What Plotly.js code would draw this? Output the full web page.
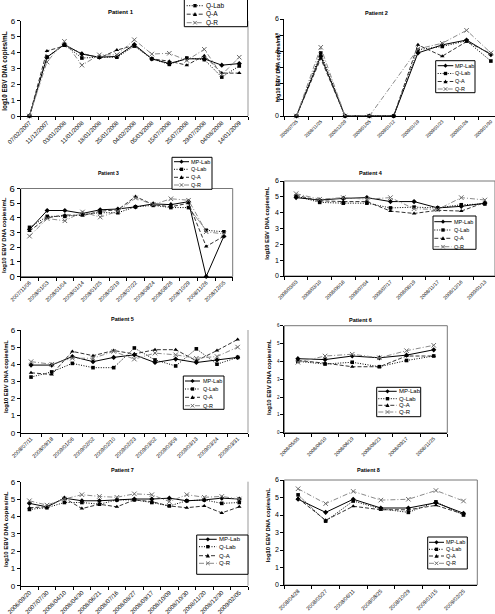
<!DOCTYPE html>
<html>
<head>
<meta charset="utf-8">
<script src="https://cdn.plot.ly/plotly-3.0.1.min.js"></script>
<style>
  html, body { margin: 0; padding: 0; background: #fff; }
  #chart { width: 495px; height: 614px; }
</style>
</head>
<body>
<div id="chart"></div>
<script>
// ---- EBV load per patient: log10 EBV DNA copies/mL by sampling date ----
const seriesNames = ['MP-Lab', 'Q-Lab', 'Q-A', 'Q-R'];

const p1Dates = ['07/02/2007','11/12/2007','03/01/2008','11/01/2008','18/01/2008','25/01/2008','04/02/2008','05/03/2008','15/07/2008','25/07/2008','29/07/2008','04/08/2008','14/01/2009'];
const p1MP   = [0, 3.7, 4.5, 3.9, 3.7, 3.75, 4.5, 3.6, 3.3, 3.6, 3.6, 3.2, 3.3];
const p1QLab = [0, 3.7, 4.5, 3.65, 3.7, 3.7, 4.4, 3.6, 3.25, 3.65, 3.55, 2.45, 3.15];
const p1QA   = [0, 4.1, 4.4, 3.95, 3.65, 4.15, 4.45, 3.6, 3.45, 3.2, 3.8, 2.7, 2.7];
const p1QR   = [0, 3.4, 4.7, 3.2, 3.85, 3.85, 4.8, 3.9, 3.95, 3.5, 4.2, 2.6, 3.7];

const p2Dates = ['2008/07/25','2008/11/25','2008/12/29','2009/01/05','2009/01/12','2009/01/19','2009/01/23','2009/01/26','2009/01/30'];
const p2MP   = [0, 3.7, 0, 0, 0, 3.9, 4.4, 4.7, 3.8];
const p2QLab = [0, 3.9, 0, 0, 0, 4.1, 4.3, 4.65, 3.4];
const p2QA   = [0, 3.55, 0, 0, 0, 4.4, 3.7, 4.6, 3.85];
const p2QR   = [0, 4.25, 0, 0, null, 4.15, 4.5, 5.3, 3.9];

const p3Dates = ['2007/11/06','2008/01/03','2008/01/04','2008/01/14','2008/01/25','2008/02/19','2008/07/22','2008/08/24','2008/08/26','2008/10/29','2008/11/26','2008/12/05'];
const p3MP   = [3.2, 4.5, 4.5, 4.3, 4.55, 4.6, 4.75, 4.95, 4.9, 5.1, 0, 2.75];
const p3QLab = [3.35, 4.1, 4.1, 4.25, 4.35, 4.35, 4.75, 4.85, 4.7, 4.7, 3.15, 3.05];
const p3QA   = [3.1, 4.0, 4.2, 4.15, 4.45, 4.55, 5.45, 4.9, 4.75, 5.0, 2.05, 2.75];
const p3QR   = [2.75, 3.95, 3.8, 4.4, 4.05, 4.45, 5.35, 4.9, 5.3, 5.2, 3.05, 2.9];

const p4Dates = ['2008/03/03','2008/03/10','2008/06/18','2008/07/04','2008/07/17','2008/08/19','2008/11/17','2008/12/16','2009/01/13'];
const p4MP   = [4.95, 4.8, 4.9, 4.95, 4.7, 4.7, 4.3, 4.4, 4.6];
const p4QLab = [5.05, 4.65, 4.6, 4.6, 4.3, 4.35, 4.3, 4.5, 4.55];
const p4QA   = [5.1, 4.75, 4.7, 4.7, 4.1, 3.95, 4.15, 4.1, 4.65];
const p4QR   = [5.2, 4.85, 4.95, 4.85, 4.95, 4.25, 4.2, 4.95, 4.8];

const p5Dates = ['2008/07/11','2008/09/18','2009/01/06','2009/02/02','2009/02/10','2009/02/23','2009/03/02','2009/03/09','2009/03/13','2009/03/24','2009/03/31'];
const p5MP   = [3.95, 3.95, 4.45, 4.15, 4.4, 4.55, 4.1, 4.3, 4.1, 4.25, 4.4];
const p5QLab = [3.25, 3.55, 4.05, 3.8, 3.8, 4.95, 4.25, 3.9, 4.9, 4.0, 4.4];
const p5QA   = [3.5, 3.4, 4.75, 4.5, 4.8, 4.6, 4.85, 4.85, 4.2, 4.8, 5.45];
const p5QR   = [4.15, 4.0, 4.35, 4.35, 4.75, 4.3, 4.65, 4.55, 4.35, 4.45, 5.0];

const p6Dates = ['2008/05/05','2008/06/10','2008/06/19','2008/08/23','2008/09/17','2008/11/25'];
const p6MP   = [4.15, 4.1, 4.3, 4.2, 4.35, 4.65];
const p6QLab = [4.0, 3.85, 3.95, 3.7, 4.05, 4.3];
const p6QA   = [4.05, 3.9, 3.7, 3.7, 4.3, 4.3];
const p6QR   = [3.95, 4.3, 4.4, 4.2, 4.6, 4.9];

const p7Dates = ['2006/09/20','2007/07/30','2008/04/10','2008/04/30','2008/06/21','2008/07/16','2008/08/27','2008/09/17','2008/10/09','2008/10/30','2008/11/20','2008/12/30','2009/02/05'];
const p7MP   = [4.75, 4.55, 5.05, 4.9, 4.9, 4.95, 5.0, 5.0, 5.05, 4.9, 4.95, 5.05, 5.0];
const p7QLab = [4.4, 4.5, 4.8, 4.8, 4.7, 4.95, 4.95, 4.8, 4.6, 4.9, 4.95, 4.75, 4.8];
const p7QA   = [4.5, 4.55, 5.05, 4.45, 4.7, 4.55, 4.95, 4.85, 4.6, 4.5, 4.6, 4.2, 4.55];
const p7QR   = [4.9, 4.65, 5.0, 5.25, 5.15, 5.1, 5.3, 5.25, 4.85, 5.25, 5.1, 5.15, 5.0];

const p8Dates = ['2008/04/28','2008/05/27','2008/06/11','2008/08/25','2008/10/29','2009/01/15','2009/02/25'];
const p8MP   = [4.9, 4.15, 4.9, 4.4, 4.4, 4.7, 4.1];
const p8QLab = [5.15, 3.65, 4.8, 4.35, 4.15, 4.75, 4.0];
const p8QA   = [4.95, 3.7, 4.5, 4.3, 4.3, 4.55, 4.05];
const p8QR   = [5.5, 4.65, 5.35, 4.85, 4.9, 5.4, 4.8];

// ---- page geometry (pixels) ----
const W = 495, H = 614;
const PX = x => x / W;
const PY = y => 1 - y / H;
const FONT = 'Liberation Sans, Arial, sans-serif';

// one entry per panel: plot box, x range, font sizes, title/legend placement
const panels = [
  { dates: p1Dates, vals: [p1MP, p1QLab, p1QA, p1QR], l: 20.7, r: 248, t: 20.7, b: 116, xEnd: null,
    yfs: 8, xfs: 6, frame: 'right', title: [121, 12.3, 6], ytitle: [5, 71.7, 6.3],
    leg: { x0: 184.3, x1: 247.5, y0: -8, y1: 26.7, rows: [-2.8, 5.7, 14.2, 22.7], sx0: 186.7, sx1: 203.3, tx: 204.5, fs: 6.5 } },
  { dates: p2Dates, vals: [p2MP, p2QLab, p2QA, p2QR], l: 284.3, r: 495, t: 19, b: 116, xEnd: 8.17,
    yfs: 7, xfs: 4.6, frame: null, title: [376.7, 13.3, 5.5], ytitle: [277.7, 67, 5.4],
    leg: { x0: 435.7, x1: 475, y0: 60.7, y1: 92.7, rows: [65.7, 73.5, 81.5, 89], sx0: 437.7, sx1: 453.3, tx: 454.3, fs: 5.5 } },
  { dates: p3Dates, vals: [p3MP, p3QLab, p3QA, p3QR], l: 20.7, r: 232.7, t: 188.5, b: 276.5, xEnd: null,
    yfs: 9.5, xfs: 5.4, frame: 'box', title: [108.7, 173.3, 5], ytitle: [4, 235, 6],
    leg: { x0: 172, x1: 212, y0: 157.3, y1: 189.3, rows: [161.7, 169.3, 177.3, 185], sx0: 174, sx1: 189, tx: 190, fs: 5.5 } },
  { dates: p4Dates, vals: [p4MP, p4QLab, p4QA, p4QR], l: 284.3, r: 495, t: 181, b: 276, xEnd: 8.43,
    yfs: 7, xfs: 5, frame: 'box', title: [371, 173.3, 5.5], ytitle: [266.7, 223, 5.8],
    leg: { x0: 433, x1: 476, y0: 216, y1: 249.3, rows: [221.7, 230, 238.3, 246.7], sx0: 434.3, sx1: 451.7, tx: 453.3, fs: 5.5 } },
  { dates: p5Dates, vals: [p5MP, p5QLab, p5QA, p5QR], l: 20.7, r: 248, t: 330, b: 432.7, xEnd: null,
    yfs: 8, xfs: 5.4, frame: 'right', title: [122.7, 319.3, 5.5], ytitle: [6, 377, 5.8],
    leg: { x0: 183.3, x1: 224, y0: 376, y1: 409.3, rows: [381, 389, 397.3, 405.7], sx0: 185, sx1: 200, tx: 201.7, fs: 5.5 } },
  { dates: p6Dates, vals: [p6MP, p6QLab, p6QA, p6QR], l: 284.3, r: 447.3, t: 325.7, b: 432.7, xEnd: null,
    yfs: 4.5, xfs: 5, frame: 'box', title: [360, 320, 5.5], ytitle: [269, 377, 6],
    leg: { x0: 376.7, x1: 420.7, y0: 387.3, y1: 416.7, rows: [391.3, 398.7, 405.3, 412], sx0: 378.3, sx1: 396.7, tx: 398.3, fs: 6 } },
  { dates: p7Dates, vals: [p7MP, p7QLab, p7QA, p7QR], l: 20.7, r: 248, t: 481.7, b: 585.7, xEnd: null,
    yfs: 8, xfs: 6, frame: 'right', title: [122.7, 470, 5.5], ytitle: [6, 529, 6],
    leg: { x0: 196.7, x1: 248, y0: 535, y1: 574.3, rows: [539.3, 546.7, 555.7, 563.3], sx0: 199, sx1: 216.7, tx: 218.3, fs: 6 } },
  { dates: p8Dates, vals: [p8MP, p8QLab, p8QA, p8QR], l: 284.3, r: 477.3, t: 480, b: 585, xEnd: null,
    yfs: 7, xfs: 5.4, frame: 'box', title: [368.3, 470, 5.5], ytitle: [268.3, 525, 5.9],
    leg: { x0: 427.7, x1: 467.3, y0: 537, y1: 569, rows: [542.3, 549.3, 556, 563.3], sx0: 429, sx1: 444, tx: 445, fs: 5.5 } }
];

// line / marker styles shared by all panels
const styles = [
  { line: { color: '#000', width: 1 }, marker: { symbol: 'diamond', size: 4, color: '#000' }, glyph: 'diamond' },
  { line: { color: '#000', width: 1, dash: '1px,1.5px' }, marker: { symbol: 'square', size: 3.6, color: '#000' }, glyph: 'square' },
  { line: { color: '#333', width: 1, dash: '4px,2px' }, marker: { symbol: 'triangle-up', size: 4, color: '#000' }, glyph: 'triangle' },
  { line: { color: '#8a8a8a', width: 1, dash: '5px,2px,1px,2px' }, marker: { symbol: 'x-thin-open', size: 4.5, color: '#6a6a6a', line: { color: '#6a6a6a', width: 1 } }, glyph: 'x' }
];

const traces = [];
const shapes = [];
const annotations = [];
const layout = {
  width: W, height: H,
  margin: { l: 0, r: 0, t: 0, b: 0, pad: 0, autoexpand: false },
  paper_bgcolor: '#fff', plot_bgcolor: 'rgba(0,0,0,0)',
  showlegend: false,
  font: { family: FONT, color: '#000' }
};

function markerPath(kind, cx, cy, s) {
  const p = (x, y) => PX(x) + ',' + PY(y);
  if (kind === 'diamond') return 'M' + p(cx, cy - s) + 'L' + p(cx + s, cy) + 'L' + p(cx, cy + s) + 'L' + p(cx - s, cy) + 'Z';
  if (kind === 'square') return 'M' + p(cx - s * 0.8, cy - s * 0.8) + 'L' + p(cx + s * 0.8, cy - s * 0.8) + 'L' + p(cx + s * 0.8, cy + s * 0.8) + 'L' + p(cx - s * 0.8, cy + s * 0.8) + 'Z';
  if (kind === 'triangle') return 'M' + p(cx, cy - s) + 'L' + p(cx + s, cy + s * 0.8) + 'L' + p(cx - s, cy + s * 0.8) + 'Z';
  return 'M' + p(cx - s * 0.8, cy - s * 0.8) + 'L' + p(cx + s * 0.8, cy + s * 0.8) + 'M' + p(cx - s * 0.8, cy + s * 0.8) + 'L' + p(cx + s * 0.8, cy - s * 0.8);
}

panels.forEach((pn, i) => {
  const k = i + 1;
  const xa = 'xaxis' + (k === 1 ? '' : k), ya = 'yaxis' + (k === 1 ? '' : k);
  const xr = 'x' + (k === 1 ? '' : k), yr = 'y' + (k === 1 ? '' : k);
  const n = pn.dates.length;

  layout[xa] = {
    domain: [PX(pn.l), PX(pn.r)], anchor: yr, type: 'category',
    range: [-0.5, pn.xEnd === null ? n - 0.5 : pn.xEnd],
    showline: true, linecolor: '#000', linewidth: 1, mirror: false,
    showgrid: false, zeroline: false, tickson: 'boundaries',
    ticks: 'outside', ticklen: 3, tickwidth: 1, tickcolor: '#000',
    tickangle: -45, tickfont: { family: FONT, size: pn.xfs, color: '#000' }, fixedrange: true
  };
  layout[ya] = {
    domain: [PY(pn.b), PY(pn.t)], anchor: xr, range: [0, 6], dtick: 1, tick0: 0,
    showline: true, linecolor: '#000', linewidth: 1,
    showgrid: false, zeroline: false, ticks: 'outside', ticklen: 3, tickwidth: 1, tickcolor: '#000',
    tickfont: { family: FONT, size: pn.yfs, color: '#000' }, fixedrange: true
  };

  pn.vals.forEach((v, s) => {
    traces.push({
      type: 'scatter', mode: 'lines+markers', name: seriesNames[s],
      x: pn.dates, y: v, xaxis: xr, yaxis: yr,
      line: styles[s].line, marker: styles[s].marker,
      connectgaps: true, cliponaxis: false, hoverinfo: 'skip'
    });
  });

  // plot-area frame
  if (pn.frame === 'box') {
    shapes.push({ type: 'rect', xref: xr + ' domain', yref: yr + ' domain', x0: 0, x1: 1, y0: 0, y1: 1,
      line: { color: '#777', width: 1 }, layer: 'below' });
  } else if (pn.frame === 'right') {
    shapes.push({ type: 'line', xref: xr + ' domain', yref: yr + ' domain', x0: 1, x1: 1, y0: 0, y1: 1,
      line: { color: '#999', width: 1 }, layer: 'below' });
  }

  // panel title
  annotations.push({ xref: 'paper', yref: 'paper', x: PX(pn.title[0]), y: PY(pn.title[1]),
    xanchor: 'center', yanchor: 'middle', showarrow: false,
    text: '<b>Patient ' + k + '</b>', font: { family: FONT, size: pn.title[2], color: '#000' } });

  // y-axis title
  annotations.push({ xref: 'paper', yref: 'paper', x: PX(pn.ytitle[0]), y: PY(pn.ytitle[1]),
    xanchor: 'center', yanchor: 'middle', showarrow: false, textangle: -90,
    text: '<b>log10 EBV DNA copies/mL</b>', font: { family: FONT, size: pn.ytitle[2], color: '#000' } });

  // legend box (entries above the page top are left out)
  const g = pn.leg;
  shapes.push({ type: 'rect', xref: 'paper', yref: 'paper', x0: PX(g.x0), x1: PX(g.x1), y0: PY(g.y1), y1: PY(g.y0),
    line: { color: '#000', width: 1 }, fillcolor: '#fff', layer: 'above' });
  seriesNames.forEach((nm, s) => {
    const yy = g.rows[s];
    if (yy < 3) return;
    const st = styles[s];
    shapes.push({ type: 'line', xref: 'paper', yref: 'paper', x0: PX(g.sx0), x1: PX(g.sx1), y0: PY(yy), y1: PY(yy),
      line: { color: st.line.color, width: 1, dash: st.line.dash || 'solid' }, layer: 'above' });
    const cx = (g.sx0 + g.sx1) / 2;
    if (st.glyph === 'x') {
      shapes.push({ type: 'path', xref: 'paper', yref: 'paper', path: markerPath('x', cx, yy, 2.2),
        line: { color: '#6a6a6a', width: 1 }, layer: 'above' });
    } else {
      shapes.push({ type: 'path', xref: 'paper', yref: 'paper', path: markerPath(st.glyph, cx, yy, 2.1),
        line: { color: '#000', width: 0 }, fillcolor: '#000', layer: 'above' });
    }
    annotations.push({ xref: 'paper', yref: 'paper', x: PX(g.tx), y: PY(yy), xanchor: 'left', yanchor: 'middle',
      showarrow: false, text: nm, borderpad: 0, font: { family: FONT, size: g.fs, color: '#000' } });
  });
});

layout.shapes = shapes;
layout.annotations = annotations;

Plotly.newPlot('chart', traces, layout, { staticPlot: true, displayModeBar: false });
</script>
</body>
</html>
